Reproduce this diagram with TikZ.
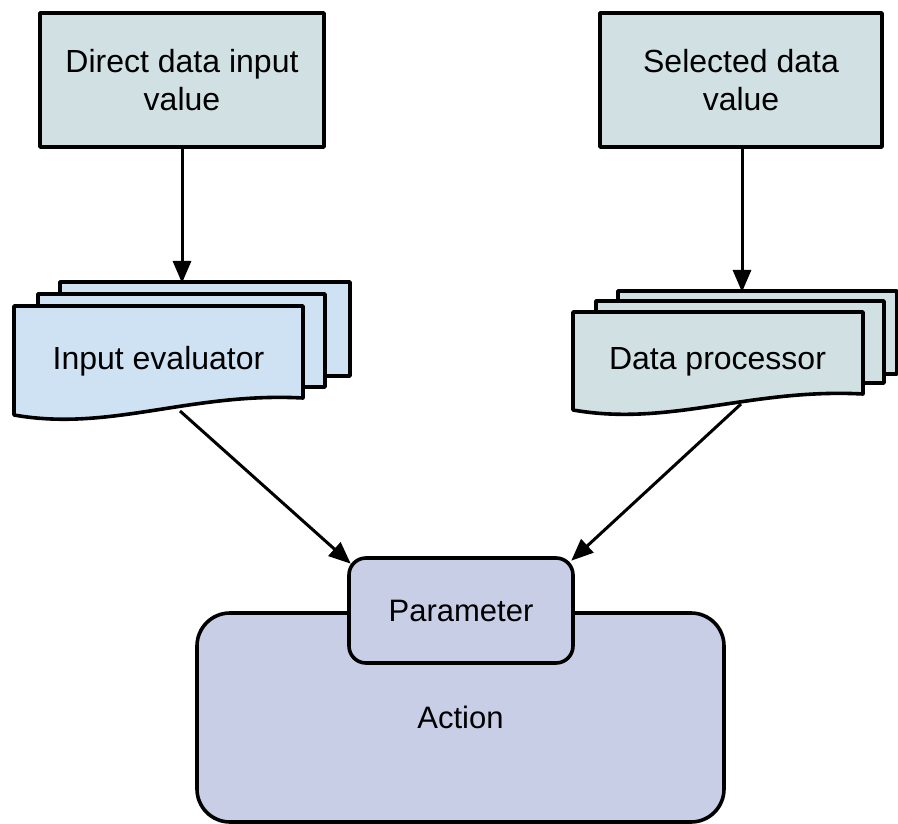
\documentclass[tikz,border=0pt]{standalone}
\usepackage{fontspec}
\setmainfont{Liberation Sans}
\usetikzlibrary{arrows.meta,calc}

\definecolor{sourcefill}{HTML}{D0E0E3}
\definecolor{evalfill}{HTML}{CFE2F3}
\definecolor{actionfill}{HTML}{C9CEE7}

\tikzset{
  outline/.style={draw=black, line width=3.6pt, line join=round},
  srcbox/.style={outline, fill=sourcefill, rectangle, inner sep=0pt,
    align=center, font=\fontsize{32}{38}\selectfont},
  sheet/.style={outline},
  label/.style={font=\fontsize{32}{38}\selectfont, inner sep=0pt},
  actbox/.style={outline, fill=actionfill, rectangle, inner sep=0pt,
    font=\fontsize{31}{37}\selectfont},
  flow/.style={line width=3pt, -{Triangle[width=18pt,length=22pt]}, shorten >=-1pt}
}

\begin{document}
\begin{tikzpicture}[x=1pt,y=-1pt]
\useasboundingbox (0,0) rectangle (898,824);

% source values
\node[srcbox, minimum width=284pt, minimum height=134pt] (direct) at (182,80)
  {Direct data input\\value};
\node[srcbox, minimum width=282pt, minimum height=134pt] (selected) at (741,80)
  {Selected data\\value};

% input evaluator: stacked document sheets
\draw[sheet, fill=evalfill] (60,282) rectangle (350,376);
\draw[sheet, fill=evalfill] (38,294) rectangle (325,387);
\draw[sheet, fill=evalfill] (14,306) -- (303,306) -- (303,398)
  .. controls (190,392) and (110,432) .. (14,415) -- cycle;
\node[label] (evaluator) at (158.5,361) {Input evaluator};
\coordinate (evalin) at (182,282);
\coordinate (evalout) at (180,411);

% data processor: stacked document sheets
\draw[sheet, fill=sourcefill] (618,291) rectangle (897,374);
\draw[sheet, fill=sourcefill] (596,301) rectangle (884,383);
\draw[sheet, fill=sourcefill] (573,312) -- (863,312) -- (863,394)
  .. controls (750,388) and (670,427) .. (573,410) -- cycle;
\node[label] (processor) at (717.5,362) {Data processor};
\coordinate (procin) at (742,291);
\coordinate (procout) at (741,404);

% action with its parameter
\node[actbox, rounded corners=33pt, minimum width=527pt, minimum height=209pt]
  (action) at (460.5,717.5) {Action};
\node[actbox, rounded corners=17pt, minimum width=224pt, minimum height=105pt]
  (param) at (461,610.5) {Parameter};
\coordinate (paramleft) at (350,563);
\coordinate (paramright) at (572,560);

% connectors
\draw[flow] (direct.south -| evalin) -- (evalin);
\draw[flow] (selected.south -| procin) -- (procin);
\draw[flow] (evalout) -- (paramleft);
\draw[flow] (procout) -- (paramright);
\end{tikzpicture}
\end{document}
